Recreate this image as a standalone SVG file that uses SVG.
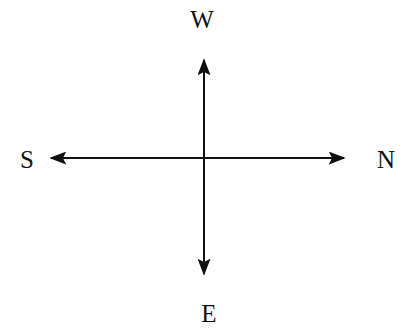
<svg xmlns="http://www.w3.org/2000/svg" width="410" height="331" viewBox="0 0 410 331">
<defs>
<style>
.lbl{font-family:"Liberation Serif","Times New Roman",serif;font-size:25px;fill:#111;text-anchor:middle}
.ln{stroke:#111;stroke-width:2;fill:none}
</style>
<marker id="ahw" viewBox="0 0 10 10" refX="9" refY="5" markerWidth="17" markerHeight="13" markerUnits="userSpaceOnUse" orient="auto" preserveAspectRatio="none">
<path d="M0,0 L10,5 L0,10 L2,5 Z" fill="#111"/>
</marker>
</defs>
<g id="connectors">
<line class="ln" x1="204" y1="158" x2="204" y2="60" marker-end="url(#ahw)"/>
<line class="ln" x1="204" y1="158" x2="204" y2="274" marker-end="url(#ahw)"/>
<line class="ln" x1="204" y1="158" x2="51" y2="158" marker-end="url(#ahw)"/>
<line class="ln" x1="204" y1="158" x2="344" y2="158" marker-end="url(#ahw)"/>
</g>
<g id="W"><text class="lbl" x="202" y="28">W</text></g>
<g id="S"><text class="lbl" x="27" y="168">S</text></g>
<g id="N"><text class="lbl" x="386" y="168">N</text></g>
<g id="E"><text class="lbl" x="209" y="322">E</text></g>
</svg>
